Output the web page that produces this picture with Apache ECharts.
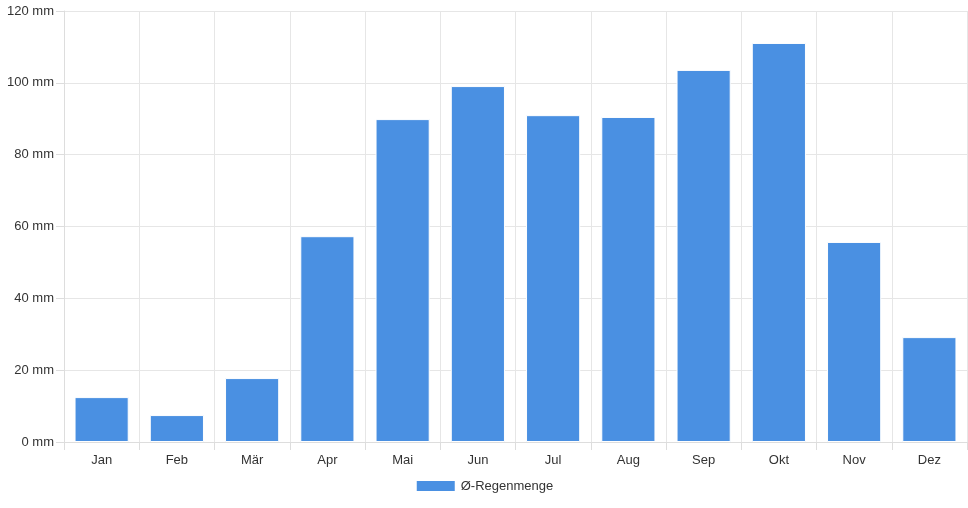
<!DOCTYPE html>
<html><head><meta charset="utf-8">
<script src="https://cdn.jsdelivr.net/npm/echarts@6/dist/echarts.min.js"></script>
<style>html,body{margin:0;padding:0;background:#fff}#c{width:968px;height:508px}</style>
</head><body><div id="c"></div>
<script>
const categories = ["Jan","Feb","Mär","Apr","Mai","Jun","Jul","Aug","Sep","Okt","Nov","Dez"];
const rain = [12.5,7.5,17.8,57.3,89.9,99.1,91.0,90.5,103.6,111.1,55.7,29.2];
const seriesName = "Ø-Regenmenge";
const chart = echarts.init(document.getElementById('c'));
const font = "Liberation Sans, Arial, sans-serif";
chart.setOption({
  animation:false,
  textStyle:{fontFamily:font},
  grid:{left:64,right:1,top:11,bottom:66,containLabel:false},
  legend:{bottom:10,left:'center',itemWidth:40,itemHeight:12,itemGap:10,
    icon:'rect',textStyle:{fontSize:13,color:'#333',fontFamily:font},data:[seriesName]},
  xAxis:{type:'category',data:categories,boundaryGap:true,
    axisLine:{lineStyle:{color:'#ddd'}},
    axisTick:{show:true,length:8,lineStyle:{color:'#ddd'}},
    axisLabel:{color:'#333',fontSize:13,margin:12,fontFamily:font},
    splitLine:{show:true,lineStyle:{color:'#e6e6e6'}}},
  yAxis:{type:'value',min:0,max:120,interval:20,
    axisLine:{show:true,lineStyle:{color:'#ddd'}},
    axisTick:{show:true,length:8,lineStyle:{color:'#ddd'}},
    axisLabel:{color:'#333',fontSize:13,margin:10,formatter:'{value} mm',fontFamily:font},
    splitLine:{lineStyle:{color:'#e6e6e6'}}},
  series:[{name:seriesName,type:'bar',data:rain,barWidth:'72%',
    itemStyle:{color:'#4a90e2',borderColor:'#ffffff',borderWidth:1}}]
});
</script></body></html>
